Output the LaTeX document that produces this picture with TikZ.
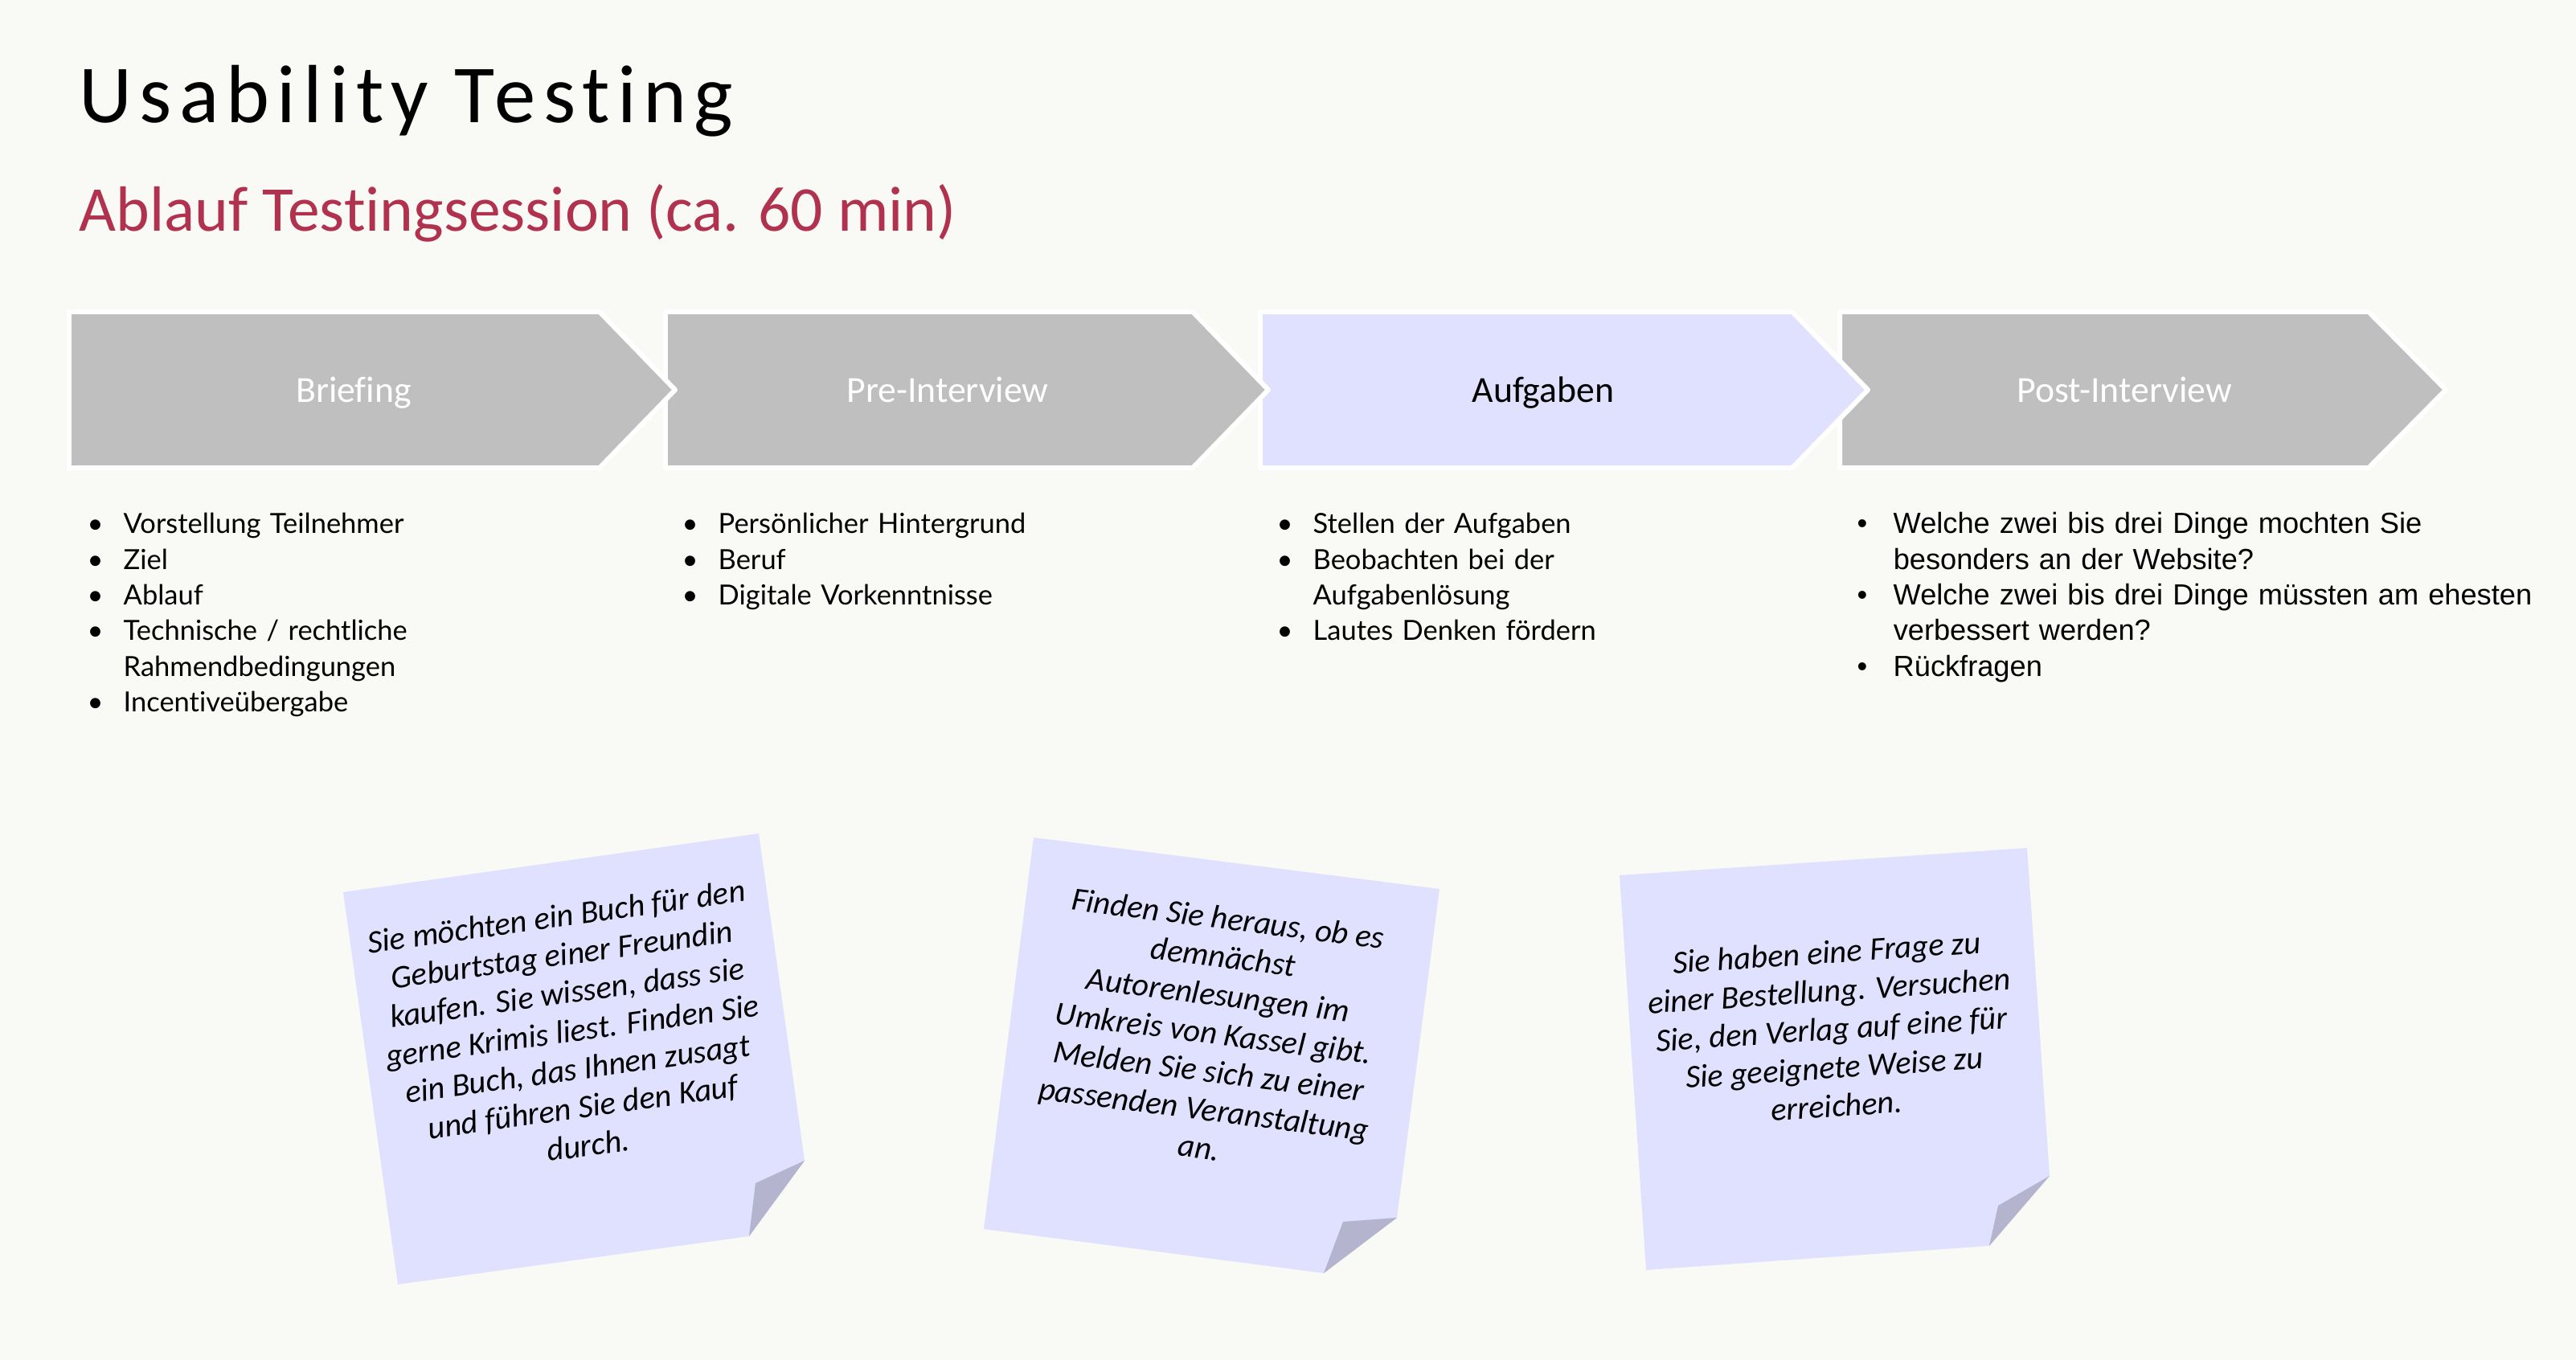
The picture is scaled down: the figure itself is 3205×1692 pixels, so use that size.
\documentclass[tikz,border=0pt]{standalone}
\usepackage{fontspec}
\setmainfont{Carlito}[Ligatures=NoCommon]
\newfontfamily\titlefont{Carlito}[LetterSpace=9,Ligatures=NoCommon]
\newfontfamily\listfont{Lato}[Ligatures=NoCommon]
\newfontfamily\arialfont{Liberation Sans}
\definecolor{bg}{RGB}{249,249,245}
\definecolor{chevgray}{RGB}{191,191,191}
\definecolor{lav}{RGB}{224,224,255}
\definecolor{foldc}{RGB}{180,180,207}
\definecolor{subred}{RGB}{176,50,78}
\tikzset{
  chev/.style={draw=white, line width=1.7pt, line join=round},
  chevlabel/.style={inner sep=0, anchor=base, font=\fontsize{13}{15}\selectfont},
  listtext/.style={anchor=base west, inner sep=0, align=left, text width=12cm},
  gilllist/.style={listtext, font=\listfont\fontsize{9.8}{12.6}\selectfont},
  ariallist/.style={listtext, font=\arialfont\fontsize{10.3}{12.6}\selectfont},
  paper/.style={fill=lav},
  foldpart/.style={fill=foldc},
  notetext/.style={inner sep=0, align=center, font=\itshape\fontsize{11.5}{13.6}\selectfont}
}
\newcommand{\bul}{\makebox[0.45cm][l]{\textbullet}}
\newcommand{\ind}{\hspace*{0.45cm}}
\begin{document}
\begin{tikzpicture}[x=0.01cm,y=-0.01cm]
\useasboundingbox (0,0) rectangle (3205,1692);
\fill[bg] (0,0) rectangle (3205,1692);

% titles
\node[anchor=base west, inner sep=0, font=\titlefont\fontsize{29.2}{35}\selectfont] (title) at (98,153) {Usability Testing};
\node[anchor=base west, inner sep=0, text=subred, font=\fontsize{22.6}{27}\selectfont] (subtitle) at (98,288) {Ablauf Testingsession (ca. 60 min)};

% process arrows (drawn right to left so that each tip lies on top)
\path[chev, fill=chevgray] (2289,388) -- (2947,388) -- (3043,485) -- (2947,582) -- (2289,582) -- cycle;
\path[chev, fill=lav] (1568,388) -- (2230,388) -- (2324,485) -- (2230,582) -- (1568,582) -- cycle;
\path[chev, fill=chevgray] (828,388) -- (1484,388) -- (1578,485) -- (1484,582) -- (828,582) -- cycle;
\path[chev, fill=chevgray] (86,388) -- (746,388) -- (840,485) -- (746,582) -- (86,582) -- cycle;

\node[chevlabel, text=white] (briefing) at (440,501) {Briefing};
\node[chevlabel, text=white] (pre) at (1179,501) {Pre-Interview};
\node[chevlabel, text=black] (aufg) at (1920,501) {Aufgaben};
\node[chevlabel, text=white] (post) at (2643,501) {Post-Interview};

% bullet lists
\node[gilllist] (list1) at (108,664) {\bul Vorstellung Teilnehmer\\\bul Ziel\\\bul Ablauf\\\bul Technische / rechtliche\\\ind Rahmendbedingungen\\\bul Incentiveübergabe};
\node[gilllist] (list2) at (848,664) {\bul Persönlicher Hintergrund\\\bul Beruf\\\bul Digitale Vorkenntnisse};
\node[gilllist] (list3) at (1588,664) {\bul Stellen der Aufgaben\\\bul Beobachten bei der\\\ind Aufgabenlösung\\\bul Lautes Denken fördern};
\node[ariallist] (list4) at (2310,664) {\bul Welche zwei bis drei Dinge mochten Sie\\\ind besonders an der Website?\\\bul Welche zwei bis drei Dinge müssten am ehesten\\\ind verbessert werden?\\\bul Rückfragen};

% sticky notes
\path[paper] (427,1110) -- (944,1037) -- (1001,1444) -- (932,1538) -- (495,1598) -- cycle;
\path[foldpart] (1001,1444) -- (932,1538) -- (940,1472) -- cycle;
\node[notetext, rotate=7.9] (note1) at (712,1282) {Sie möchten ein Buch für den\\Geburtstag einer Freundin\\kaufen. Sie wissen, dass sie\\gerne Krimis liest. Finden Sie\\ein Buch, das Ihnen zusagt\\und führen Sie den Kauf\\durch.};

\path[paper] (1286,1042) -- (1791,1106) -- (1738,1515) -- (1647,1584) -- (1224,1529) -- cycle;
\path[foldpart] (1738,1515) -- (1647,1584) -- (1671,1520) -- cycle;
\node[notetext, rotate=-7.2] (note2) at (1510,1285) {Finden Sie heraus, ob es\\demnächst\\Autorenlesungen im\\Umkreis von Kassel gibt.\\Melden Sie sich zu einer\\passenden Veranstaltung\\an.};

\path[paper] (2015,1089) -- (2522,1055) -- (2550,1463) -- (2475,1550) -- (2048,1580) -- cycle;
\path[foldpart] (2550,1463) -- (2475,1550) -- (2486,1500) -- cycle;
\node[notetext, rotate=3.8] (note3) at (2279,1280) {Sie haben eine Frage zu\\einer Bestellung. Versuchen\\Sie, den Verlag auf eine für\\Sie geeignete Weise zu\\erreichen.};
\end{tikzpicture}
\end{document}
